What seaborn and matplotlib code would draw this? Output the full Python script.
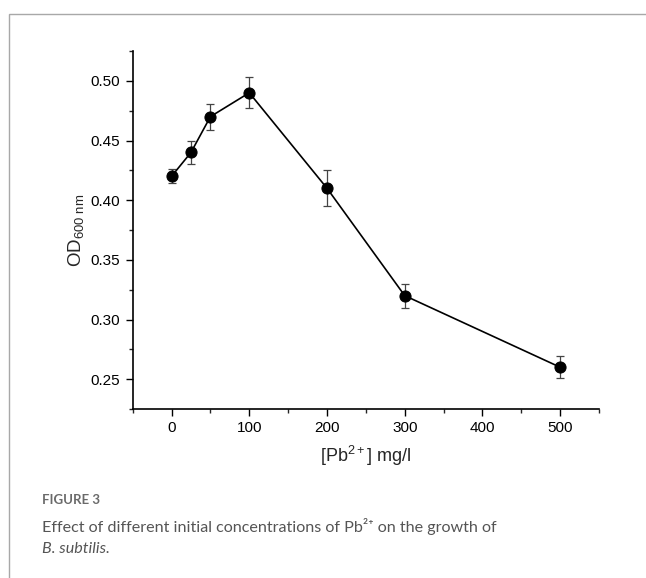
import matplotlib
matplotlib.use("Agg")
import matplotlib.pyplot as plt
import seaborn as sns
import pandas as pd
from matplotlib.ticker import MultipleLocator
from matplotlib.patches import Rectangle

# data
conc = [0, 25, 50, 100, 200, 300, 500]
od600 = [0.42, 0.44, 0.47, 0.49, 0.41, 0.32, 0.26]
od_err = [0.006, 0.010, 0.011, 0.013, 0.015, 0.010, 0.009]
x_ticks = [0, 100, 200, 300, 400, 500]
y_ticks = [0.25, 0.30, 0.35, 0.40, 0.45, 0.50]

sns.set_style("ticks")
plt.rcParams['font.family'] = ['Liberation Sans', 'DejaVu Sans']
plt.rcParams['mathtext.fontset'] = 'custom'
plt.rcParams['mathtext.rm'] = 'Liberation Sans'
plt.rcParams['mathtext.it'] = 'Liberation Sans:italic'

df = pd.DataFrame({"conc": conc, "od": od600, "err": od_err})

fig = plt.figure(figsize=(6.46, 5.78), dpi=100)
fig.patch.set_facecolor("white")

# frame box around figure (top and left visible)
fig.patches.append(Rectangle((9/646, -0.1), 1.2, 1 - 14/578 + 0.1,
                             transform=fig.transFigure, fill=False,
                             edgecolor="#a8a8a8", linewidth=1.0))

ax = fig.add_axes([132.7/646, 1-409/578, (599-132.7)/646, (409-51)/578])

ax.errorbar(df["conc"], df["od"], yerr=df["err"], fmt="none",
            ecolor="#444444", elinewidth=0.9, capsize=3, capthick=0.9, zorder=2)
sns.lineplot(data=df, x="conc", y="od", ax=ax, color="black", linewidth=1.2,
             marker="o", markersize=8, markeredgecolor="black",
             markerfacecolor="black", zorder=3)

ax.set_xlim(-50, 550)
ax.set_ylim(0.225, 0.525)
ax.set_xticks(x_ticks)
ax.set_yticks(y_ticks)
ax.set_xticklabels([str(v) for v in x_ticks])
ax.set_yticklabels([f"{v:.2f}" for v in y_ticks])
ax.xaxis.set_minor_locator(MultipleLocator(50))
ax.yaxis.set_minor_locator(MultipleLocator(0.025))
ax.tick_params(axis="both", which="major", length=5, width=1.0, labelsize=11,
               pad=4, color="black", labelcolor="black", direction="out")
ax.tick_params(axis="both", which="minor", length=3, width=1.0, direction="out")
for s in ["top", "right"]:
    ax.spines[s].set_visible(False)
for s in ["left", "bottom"]:
    ax.spines[s].set_linewidth(1.2)
    ax.spines[s].set_color("black")

ax.set_xlabel("[Pb$^{2+}$] mg/l", fontsize=13, labelpad=6)
ax.set_ylabel("OD$_{600\\ \\mathrm{nm}}$", fontsize=13.5, labelpad=3)

# caption
cap_fam = ["Lato", "DejaVu Sans"]
fig.text(42/646, 1-504/578, "FIGURE 3", fontsize=9.5, color="#6a6a6a",
         family=cap_fam, weight="bold", va="baseline", ha="left")
fig.text(42/646, 1-531.7/578, "Effect of different initial concentrations of Pb²⁺ on the growth of",
         fontsize=11.6, color="#555555", family=cap_fam, weight="normal",
         va="baseline", ha="left")
fig.text(42/646, 1-553.3/578, "B. subtilis.", fontsize=11.6, color="#555555",
         family=cap_fam, weight="normal", style="italic", va="baseline", ha="left")

fig.savefig("out.png", dpi=100)
